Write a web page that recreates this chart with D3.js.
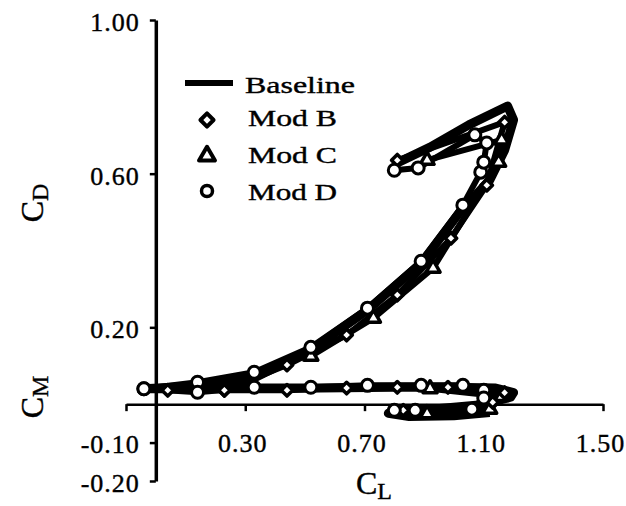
<!DOCTYPE html>
<html>
<head>
<meta charset="utf-8">
<script src="https://cdn.jsdelivr.net/npm/d3@7"></script>
<style>
  body { margin: 0; background: #fff; }
  svg { display: block; }
  svg text { font-family: "Liberation Serif", "Times New Roman", serif; stroke: black; stroke-width: 0.4px; }
</style>
</head>
<body>
<div id="chart"></div>
<script>
const xTicks = [-0.1, 0.3, 0.7, 1.1, 1.5];
const yTicks = [1.0, 0.6, 0.2, -0.1, -0.2];
const seriesNames = ["Baseline", "Mod B", "Mod C", "Mod D"];

// [CL, CD] and [CL, CM] pairs
const baselineCD = [[-0.04, 0.040], [0.14, 0.047], [0.33, 0.068], [0.52, 0.141], [0.71, 0.245], [0.89, 0.367], [1.02, 0.500], [1.12, 0.583], [1.17, 0.661], [1.20, 0.740], [1.18, 0.776], [1.05, 0.727], [0.92, 0.669], [0.81, 0.628]];
const baselineCM = [[-0.04, 0.040], [0.14, 0.040], [0.33, 0.042], [0.55, 0.042], [0.80, 0.044], [1.00, 0.044], [1.14, 0.042], [1.20, 0.030], [1.19, 0.018], [1.13, 0.006], [1.10, -0.008], [0.95, -0.012], [0.80, -0.014], [0.78, -0.024], [0.85, -0.032], [1.00, -0.030], [1.12, -0.022]];
const modBCD = [[0.04, 0.036], [0.23, 0.036], [0.44, 0.102], [0.64, 0.180], [0.81, 0.284], [0.99, 0.432], [1.11, 0.570], [1.17, 0.734], [0.81, 0.635]];
const modBCM = [[0.23, 0.036], [0.44, 0.036], [0.64, 0.042], [0.81, 0.044], [0.98, 0.044], [1.17, 0.030], [1.13, 0.005], [0.83, -0.016]];
const modCCD = [[0.52, 0.125], [0.73, 0.224], [0.93, 0.354], [1.15, 0.630], [1.16, 0.688], [0.91, 0.635]];
const modCCM = [[0.92, 0.040], [1.16, 0.020], [1.12, -0.013], [0.91, -0.025]];
const modDCD = [[-0.04, 0.040], [0.14, 0.057], [0.33, 0.083], [0.52, 0.148], [0.71, 0.250], [0.89, 0.372], [1.03, 0.518], [1.09, 0.604], [1.10, 0.630], [1.11, 0.680], [1.07, 0.701], [0.88, 0.615], [0.80, 0.609]];
const modDCM = [[-0.04, 0.040], [0.14, 0.031], [0.33, 0.044], [0.52, 0.044], [0.71, 0.049], [0.89, 0.049], [1.03, 0.049], [1.10, 0.036], [1.10, 0.016], [1.06, -0.013], [0.87, -0.016], [0.80, -0.016]];

const width = 626;
const height = 506;
const serif = "Liberation Serif, Times New Roman, serif";
const fmt = (d) => d3.format(".2f")(d).replace("\u2212", "-");

const svg = d3
  .select("#chart")
  .append("svg")
  .attr("width", width)
  .attr("height", height);

const x = d3.scaleLinear().domain([-0.1, 1.5]).range([126, 603]);
const y = d3.scaleLinear().domain([-0.2, 1.0]).range([481, 20]);

const xAxis = svg
  .append("g")
  .attr("transform", `translate(0,${y(0)})`)
  .call(
    d3.axisBottom(x)
      .tickValues(xTicks)
      .tickSize(7)
      .tickSizeOuter(0)
      .tickFormat((d) => (d < 0 ? "" : fmt(d)))
  )
  .attr("font-family", serif);
xAxis.select(".domain").attr("stroke", "black").attr("stroke-width", 2.5);
xAxis.selectAll(".tick line").attr("stroke", "black").attr("stroke-width", 2.5);
xAxis
  .selectAll(".tick text")
  .attr("y", 48)
  .attr("dy", 0)
  .attr("dx", -3)
  .style("font-size", "26px")
  .style("letter-spacing", "1px")
  .attr("fill", "black");

const yAxis = svg
  .append("g")
  .attr("transform", `translate(${x(0)},0)`)
  .call(
    d3.axisLeft(y)
      .tickValues(yTicks)
      .tickSize(6)
      .tickSizeOuter(0)
      .tickFormat(fmt)
  )
  .attr("font-family", serif);
yAxis.select(".domain").attr("stroke", "black").attr("stroke-width", 3.5);
yAxis.selectAll(".tick line").attr("stroke", "black").attr("stroke-width", 2.5);
yAxis
  .selectAll(".tick text")
  .attr("x", -16)
  .attr("dy", "0.4em")
  .style("font-size", "26px")
  .style("letter-spacing", "1px")
  .attr("fill", "black");

const line = d3
  .line()
  .x((d) => x(d[0]))
  .y((d) => y(d[1]));

[baselineCD, baselineCM].forEach((s) => {
  svg
    .append("path")
    .datum(s)
    .attr("fill", "none")
    .attr("stroke", "black")
    .attr("stroke-width", 9)
    .attr("stroke-linejoin", "round")
    .attr("d", line);
});

[modBCD, modBCM, modCCD, modCCM, modDCD, modDCM].forEach((s) => {
  svg
    .append("path")
    .datum(s)
    .attr("fill", "none")
    .attr("stroke", "black")
    .attr("stroke-width", 6)
    .attr("stroke-linejoin", "round")
    .attr("d", line);
});

const triangle = d3.symbol().type(d3.symbolTriangle).size(85);
const diamond = d3.symbol().type(d3.symbolDiamond2).size(85);

const drawMarks = (data, gen) => {
  svg
    .append("g")
    .selectAll("path")
    .data(data)
    .enter()
    .append("path")
    .attr("transform", (d) => `translate(${x(d[0])},${y(d[1])})`)
    .attr("d", gen)
    .attr("fill", "white")
    .attr("stroke", "black")
    .attr("stroke-width", 3.5)
    .attr("stroke-linejoin", "round");
};
drawMarks(modCCD.concat(modCCM), triangle);
drawMarks(modBCD.concat(modBCM), diamond);

svg
  .append("g")
  .selectAll("circle")
  .data(modDCD.concat(modDCM))
  .enter()
  .append("circle")
  .attr("cx", (d) => x(d[0]))
  .attr("cy", (d) => y(d[1]))
  .attr("r", 6)
  .attr("fill", "white")
  .attr("stroke", "black")
  .attr("stroke-width", 3);

// legend
const legend = svg.append("g");
legend
  .append("line")
  .attr("x1", 185)
  .attr("x2", 233)
  .attr("y1", 83)
  .attr("y2", 83)
  .attr("stroke", "black")
  .attr("stroke-width", 6);
legend
  .append("path")
  .attr("transform", "translate(207,120)")
  .attr("d", d3.symbol().type(d3.symbolDiamond2).size(110))
  .attr("fill", "white")
  .attr("stroke", "black")
  .attr("stroke-width", 4)
  .attr("stroke-linejoin", "round");
legend
  .append("path")
  .attr("transform", "translate(207,156)")
  .attr("d", d3.symbol().type(d3.symbolTriangle).size(110))
  .attr("fill", "white")
  .attr("stroke", "black")
  .attr("stroke-width", 4)
  .attr("stroke-linejoin", "round");
legend
  .append("circle")
  .attr("cx", 207)
  .attr("cy", 191)
  .attr("r", 5.5)
  .attr("fill", "white")
  .attr("stroke", "black")
  .attr("stroke-width", 3.5);

const legendY = [93, 126, 163, 200];
const legendW = [110, 89, 89, 89];
seriesNames.forEach((name, i) => {
  legend
    .append("text")
    .attr("x", i === 0 ? 245 : 248)
    .attr("y", legendY[i])
    .attr("textLength", legendW[i])
    .attr("lengthAdjust", "spacingAndGlyphs")
    .style("font-size", "24px")
    .attr("fill", "black")
    .text(name);
});

// axis titles
const title = (tx, ty, rot, main, sub) => {
  const t = svg
    .append("text")
    .attr("transform", `translate(${tx},${ty}) rotate(${rot})`)
    .attr("text-anchor", "middle")
    .attr("fill", "black");
  t.append("tspan").style("font-size", "32px").text(main);
  t.append("tspan").style("font-size", "24px").attr("dy", 5).text(sub);
};
title(43, 203, -90, "C", "D");
title(43, 397, -90, "C", "M");
title(374, 494, 0, "C", "L");
</script>
</body>
</html>
